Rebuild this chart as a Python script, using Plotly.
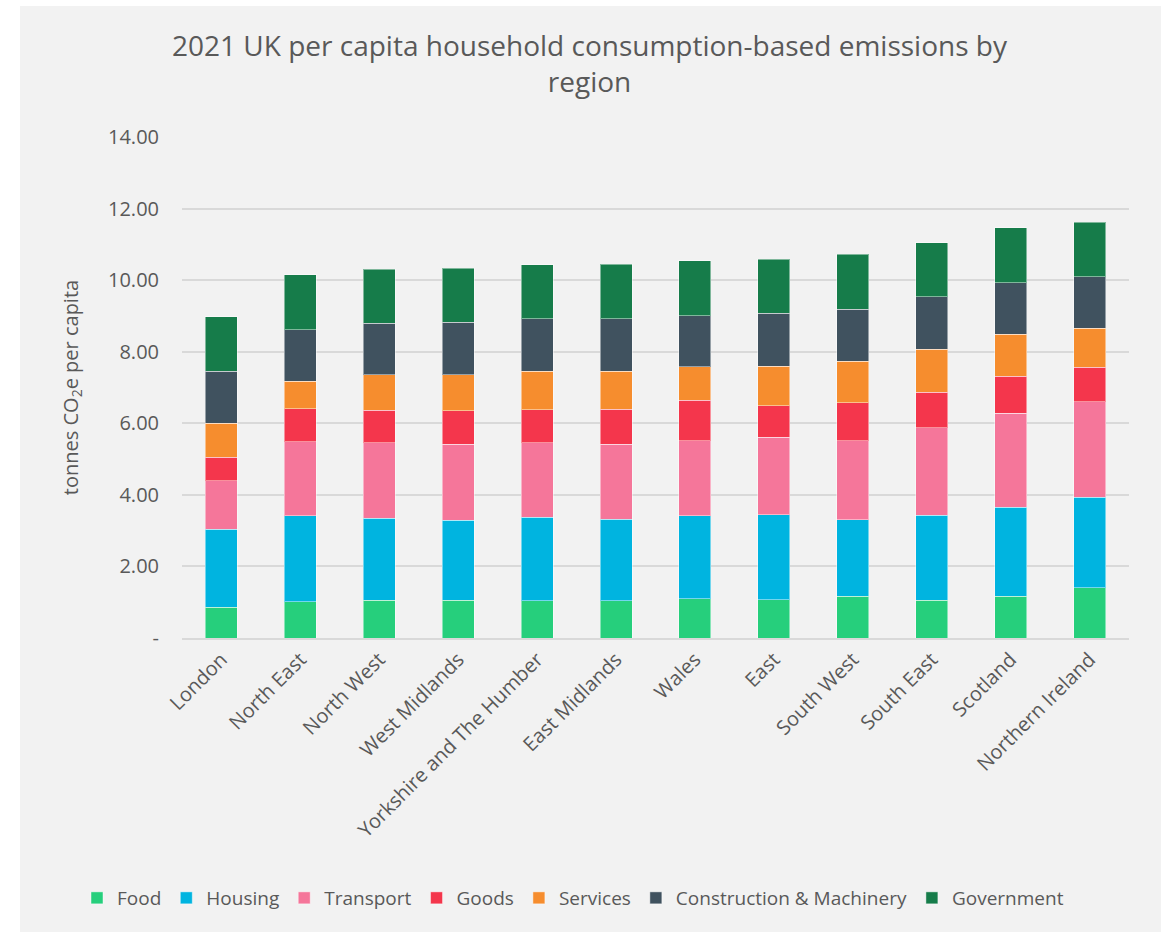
import plotly.graph_objects as go

regions = ["London", "North East", "North West", "West Midlands", "Yorkshire and The Humber",
           "East Midlands", "Wales", "East", "South West", "South East", "Scotland", "Northern Ireland"]

food = [0.86, 1.02, 1.06, 1.05, 1.04, 1.04, 1.10, 1.07, 1.16, 1.06, 1.17, 1.40]
housing = [2.18, 2.39, 2.28, 2.24, 2.34, 2.28, 2.32, 2.38, 2.14, 2.37, 2.48, 2.54]
transport = [1.35, 2.07, 2.11, 2.13, 2.07, 2.09, 2.09, 2.16, 2.21, 2.44, 2.63, 2.66]
goods = [0.66, 0.92, 0.92, 0.93, 0.93, 0.98, 1.13, 0.88, 1.07, 1.00, 1.03, 0.96]
services = [0.95, 0.78, 0.98, 1.00, 1.08, 1.07, 0.94, 1.11, 1.15, 1.20, 1.18, 1.10]
construction = [1.45, 1.44, 1.44, 1.47, 1.46, 1.46, 1.43, 1.47, 1.46, 1.46, 1.44, 1.44]
government = [1.53, 1.53, 1.52, 1.51, 1.51, 1.52, 1.53, 1.51, 1.53, 1.52, 1.53, 1.52]

series = [
    ("Food", food, "#26cf7c"),
    ("Housing", housing, "#00b4e0"),
    ("Transport", transport, "#f5769a"),
    ("Goods", goods, "#f4364c"),
    ("Services", services, "#f68d2e"),
    ("Construction & Machinery", construction, "#40525f"),
    ("Government", government, "#167c4a"),
]

tick_vals = [0, 2, 4, 6, 8, 10, 12, 14]
tick_text = ["-", "2.00", "4.00", "6.00", "8.00", "10.00", "12.00", "14.00"]

FONT = "Open Sans"
TXT = "#595959"
BG = "#f2f2f2"

fig = go.Figure()
for name, vals, col in series:
    fig.add_trace(go.Bar(
        x=regions, y=vals, name=name,
        marker=dict(color=col, line=dict(color="rgba(255,255,255,0.45)", width=1)),
    ))

W, H = 1161, 932
ml, mr, mt, mb = 182, 32, 137, 294
pw, ph = W - ml - mr, H - mt - mb

def px_to_paper_x(px):
    return (px - ml) / pw

def px_to_paper_y(py):
    return (H - mb - py) / ph

fig.update_layout(
    width=W, height=H,
    margin=dict(l=ml, r=mr, t=mt, b=mb, autoexpand=False),
    barmode="stack",
    bargap=0.595,
    paper_bgcolor=BG,
    plot_bgcolor=BG,
    font=dict(family=FONT, color=TXT, size=20),
    title=dict(
        text="2021 UK per capita household consumption-based emissions by<br>region",
        x=589.5 / W, xanchor="center", xref="container",
        y=1 - 56 / H, yanchor="top", yref="container",
        font=dict(family=FONT, size=28, color=TXT),
    ),
    yaxis=dict(
        range=[0, 14],
        tickvals=tick_vals, ticktext=tick_text,
        showgrid=True, gridcolor="#d9d9d9", gridwidth=2,
        zeroline=False, showline=False,
        ticks="", ticklabelstandoff=22,
        tickfont=dict(size=20, color=TXT),
        title=dict(text="tonnes CO<sub>2</sub>e per capita", font=dict(size=20, color=TXT), standoff=24),
    ),
    xaxis=dict(
        tickangle=-45,
        showgrid=False, showline=True, linecolor="#d9d9d9", linewidth=2,
        ticks="", tickfont=dict(size=20, color=TXT),
    ),
    legend=dict(
        orientation="h",
        x=px_to_paper_x(77), xanchor="left",
        y=px_to_paper_y(898), yanchor="middle",
        font=dict(size=19, color=TXT),
        bgcolor="rgba(0,0,0,0)",
        traceorder="normal",
    ),
    shapes=[
        dict(type="rect", xref="paper", yref="paper",
             x0=px_to_paper_x(-10), x1=px_to_paper_x(20),
             y0=px_to_paper_y(H + 10), y1=px_to_paper_y(-10),
             fillcolor="white", line=dict(width=0), layer="above"),
        dict(type="rect", xref="paper", yref="paper",
             x0=px_to_paper_x(-10), x1=px_to_paper_x(W + 10),
             y0=px_to_paper_y(6), y1=px_to_paper_y(-10),
             fillcolor="white", line=dict(width=0), layer="above"),
    ],
)

fig.write_html("out.html")
